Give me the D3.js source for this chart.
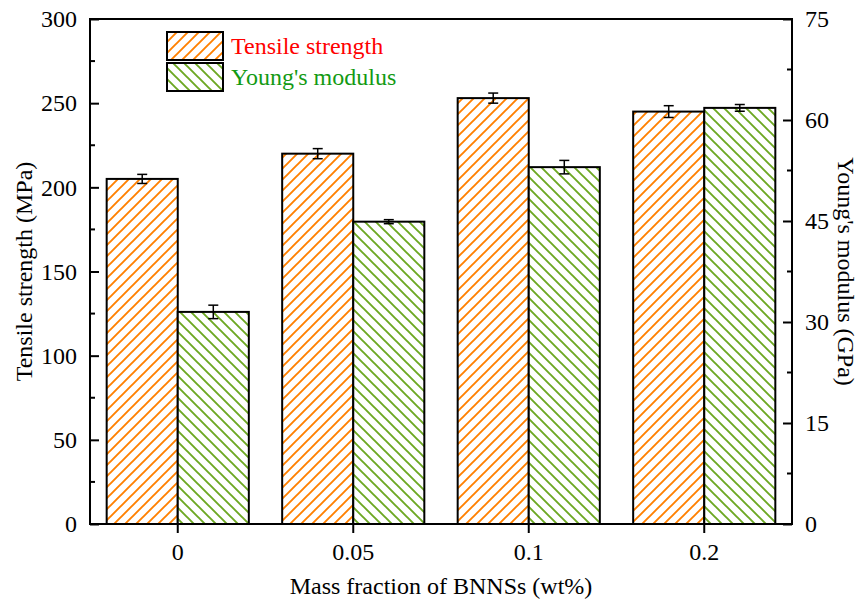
<!DOCTYPE html>
<html><head><meta charset="utf-8">
<script src="https://cdn.jsdelivr.net/npm/d3@7"></script>
<style>body{margin:0;background:#fff}svg{display:block}text{font-family:"Liberation Serif","Times New Roman",serif}</style>
</head><body>
<script>
const categories = ["0", "0.05", "0.1", "0.2"];
const tensile = [205, 220, 253, 245];
const tensileErr = [2.7, 3, 3, 3.5];
const modulus = [31.5, 44.9, 53.0, 61.8];
const modulusErr = [1.0, 0.3, 1.0, 0.5];
const leftTicks = [0, 50, 100, 150, 200, 250, 300];
const rightTicks = [0, 15, 30, 45, 60, 75];
const seriesNames = ["Tensile strength", "Young's modulus"];

const W = 861, H = 603;
const L = 90, R = 792, T = 19, B = 524;
const svg = d3.select("body").append("svg").attr("width", W).attr("height", H);

const defs = svg.append("defs");
function hatch(id, color, dir) {
  const s = 11;
  const p = defs.append("pattern").attr("id", id).attr("patternUnits", "userSpaceOnUse")
    .attr("width", s).attr("height", s);
  p.append("rect").attr("width", s).attr("height", s).attr("fill", "#fff");
  const d = dir === "/" ? `M-2,2 L2,-2 M0,${s} L${s},0 M${s-2},${s+2} L${s+2},${s-2}`
                        : `M-2,${s-2} L2,${s+2} M0,0 L${s},${s} M${s-2},-2 L${s+2},2`;
  p.append("path").attr("d", d).attr("stroke", color).attr("stroke-width", 1.9).attr("fill", "none");
}
const orange = "#FF8000", green = "#6DA822";
hatch("hOrange", orange, "/");
hatch("hGreen", green, "\\");

const x0 = d3.scaleBand().domain(categories).range([L, R]).paddingInner(0.19).paddingOuter(0.095);
const x1 = d3.scaleBand().domain(seriesNames).range([0, x0.bandwidth()]);
const yL = d3.scaleLinear().domain([0, 300]).range([B, T]);
const yR = d3.scaleLinear().domain([0, 75]).range([B, T]);

const fills = ["url(#hOrange)", "url(#hGreen)"];
const data = categories.map((c, i) => ({c, vals: [
  {s: seriesNames[0], v: tensile[i], e: tensileErr[i], y: yL},
  {s: seriesNames[1], v: modulus[i], e: modulusErr[i], y: yR}]}));

const g = svg.append("g");
data.forEach(d => {
  d.vals.forEach((b, k) => {
    const xx = x0(d.c) + x1(b.s);
    g.append("rect").attr("x", xx).attr("y", b.y(b.v)).attr("width", x1.bandwidth())
      .attr("height", B - b.y(b.v)).attr("fill", fills[k]).attr("stroke", "#000").attr("stroke-width", 2);
  });
});
// error bars
data.forEach(d => {
  d.vals.forEach(b => {
    const cx = x0(d.c) + x1(b.s) + x1.bandwidth() / 2;
    const y1 = b.y(b.v + b.e), y2 = b.y(b.v - b.e);
    g.append("line").attr("x1", cx).attr("x2", cx).attr("y1", y1).attr("y2", y2).attr("stroke", "#000").attr("stroke-width", 1.5);
    [y1, y2].forEach(yy => g.append("line").attr("x1", cx - 5).attr("x2", cx + 5).attr("y1", yy).attr("y2", yy).attr("stroke", "#000").attr("stroke-width", 1.5));
  });
});

// frame
svg.append("rect").attr("x", L).attr("y", T).attr("width", R - L).attr("height", B - T)
  .attr("fill", "none").attr("stroke", "#000").attr("stroke-width", 2);

const fs = 24;
const la = svg.append("g").attr("transform", `translate(${L},0)`)
  .call(d3.axisLeft(yL).tickValues(leftTicks).tickSize(-9).tickPadding(13));
const ra = svg.append("g").attr("transform", `translate(${R},0)`)
  .call(d3.axisRight(yR).tickValues(rightTicks).tickSize(-9).tickPadding(13));
const ba = svg.append("g").attr("transform", `translate(0,${B})`)
  .call(d3.axisBottom(x0).tickSize(9).tickPadding(10));
[la, ra, ba].forEach(a => {
  a.attr("font-family", "Liberation Serif").attr("font-size", fs);
  a.select(".domain").remove();
  a.selectAll(".tick line").attr("stroke", "#000").attr("stroke-width", 2);
  a.selectAll("text").attr("font-size", fs).attr("fill", "#000");
});
// minor ticks
svg.append("g").selectAll("line").data(d3.range(25, 300, 50)).join("line")
  .attr("x1", L).attr("x2", L + 5).attr("y1", d => yL(d)).attr("y2", d => yL(d)).attr("stroke", "#000").attr("stroke-width", 2);
svg.append("g").selectAll("line").data(d3.range(7.5, 75, 15)).join("line")
  .attr("x1", R).attr("x2", R - 5).attr("y1", d => yR(d)).attr("y2", d => yR(d)).attr("stroke", "#000").attr("stroke-width", 2);

// axis titles
svg.append("text").attr("x", (L + R) / 2).attr("y", 594).attr("text-anchor", "middle")
  .attr("font-size", fs).text("Mass fraction of BNNSs (wt%)");
svg.append("text").attr("transform", `translate(32,${(T + B) / 2}) rotate(-90)`).attr("text-anchor", "middle")
  .attr("font-size", fs).text("Tensile strength (MPa)");
svg.append("text").attr("transform", `translate(838,${(T + B) / 2}) rotate(90)`).attr("text-anchor", "middle")
  .attr("font-size", fs).text("Young's modulus (GPa)");

// legend
const lg = svg.append("g");
const legColors = ["#FF0000", "#139A13"];
seriesNames.forEach((s, i) => {
  const y = 32 + i * 31;
  lg.append("rect").attr("x", 167).attr("y", y).attr("width", 56).attr("height", 28)
    .attr("fill", fills[i]).attr("stroke", "#000").attr("stroke-width", 2);
  lg.append("text").attr("x", 231).attr("y", y + 22).attr("font-size", fs).attr("fill", legColors[i]).text(s);
});
</script>
</body></html>
